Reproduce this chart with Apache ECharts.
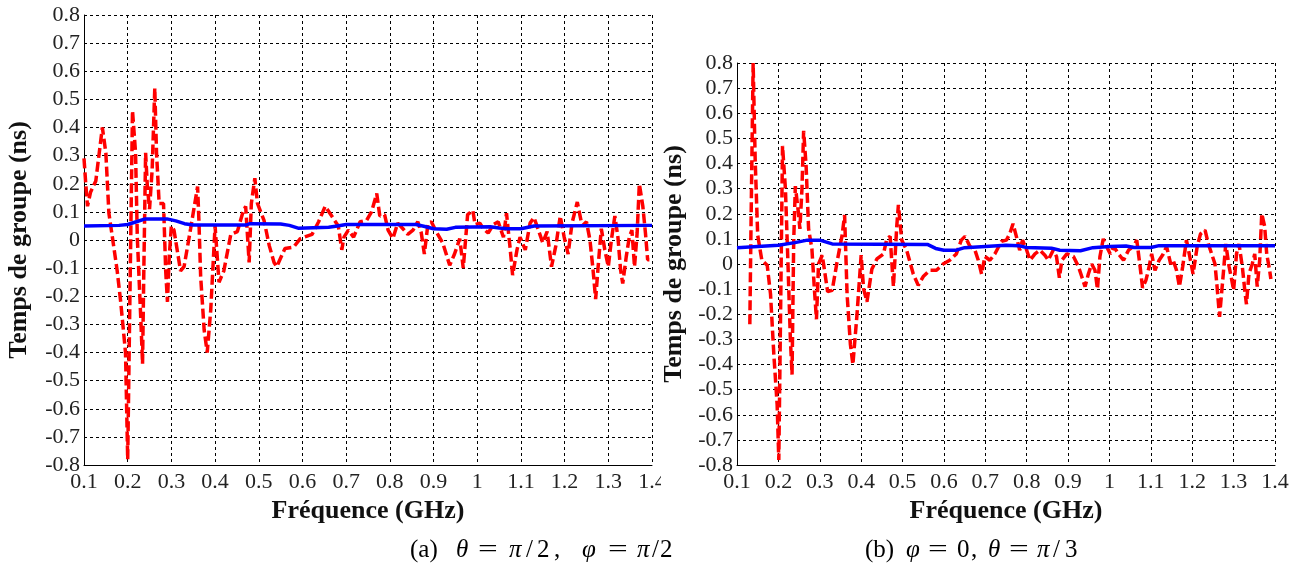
<!DOCTYPE html>
<html>
<head>
<meta charset="utf-8">
<script src="https://cdn.jsdelivr.net/npm/echarts@6/dist/echarts.min.js"></script>
<style>
html,body{margin:0;padding:0;background:#fff;}
#c{width:1305px;height:567px;}
</style>
</head>
<body>
<div id="c"></div>
<script>
// ---- Data (a) theta = pi/2, phi = pi/2 ----
const freqRedA = [0.100,0.104,0.108,0.115,0.127,0.142,0.150,0.157,0.165,0.176,0.184,0.195,0.200,0.206,0.211,0.218,0.222,0.230,0.234,0.237,0.241,0.245,0.250,0.256,0.262,0.266,0.272,0.282,0.287,0.291,0.295,0.300,0.306,0.321,0.329,0.344,0.360,0.363,0.367,0.375,0.382,0.390,0.398,0.400,0.409,0.420,0.436,0.451,0.463,0.470,0.478,0.483,0.491,0.497,0.512,0.524,0.535,0.541,0.560,0.580,0.595,0.622,0.637,0.652,0.667,0.682,0.690,0.695,0.705,0.717,0.732,0.747,0.758,0.770,0.777,0.788,0.796,0.807,0.818,0.830,0.841,0.853,0.864,0.872,0.879,0.887,0.895,0.906,0.921,0.937,0.948,0.960,0.968,0.978,0.990,0.995,1.006,1.014,1.025,1.037,1.048,1.060,1.067,1.075,1.081,1.091,1.098,1.110,1.121,1.130,1.140,1.150,1.160,1.170,1.180,1.190,1.199,1.208,1.217,1.229,1.240,1.250,1.258,1.265,1.271,1.278,1.284,1.292,1.300,1.307,1.315,1.322,1.328,1.333,1.341,1.348,1.354,1.360,1.366,1.371,1.379,1.385,1.390,1.394];
const delayRedA = [0.29,0.20,0.12,0.17,0.21,0.40,0.31,0.095,0.01,-0.11,-0.22,-0.40,-0.78,-0.10,0.46,0.31,0.01,-0.28,-0.44,-0.10,0.31,0.19,0.11,0.25,0.54,0.31,0.13,0.13,-0.11,-0.22,-0.06,0.05,0.035,-0.11,-0.095,0.04,0.19,0.07,-0.13,-0.32,-0.40,-0.25,-0.01,0.05,-0.15,-0.11,0.02,0.03,0.095,0.12,-0.08,0.13,0.22,0.13,0.07,-0.02,-0.08,-0.095,-0.03,-0.025,0.005,0.02,0.065,0.12,0.085,0.05,-0.035,0.01,0.035,0.01,0.065,0.07,0.10,0.165,0.085,0.09,0.035,0.005,0.06,0.04,0.02,0.035,0.065,0.025,-0.05,0.055,0.065,0.03,-0.01,-0.09,-0.05,0.005,-0.10,0.09,0.105,0.055,0.06,0.04,0.025,0.055,0.065,0.01,0.095,-0.025,-0.125,-0.035,0.01,-0.035,0.06,0.08,0.035,-0.01,0.03,-0.095,-0.02,0.085,0.01,-0.05,0.06,0.135,0.05,0.065,0.0,-0.105,-0.21,-0.07,0.04,-0.035,-0.095,0.0,0.085,0.01,-0.105,-0.155,-0.06,0.01,0.035,-0.095,0.025,0.20,0.12,0.025,-0.07,-0.07];
const freqBlueA = [0.10,0.18,0.20,0.22,0.24,0.29,0.31,0.33,0.35,0.47,0.48,0.55,0.57,0.59,0.66,0.68,0.70,0.86,0.88,0.90,0.93,0.95,1.03,1.05,1.07,1.10,1.13,1.40];
const delayBlueA = [0.050,0.052,0.055,0.065,0.075,0.075,0.068,0.058,0.053,0.053,0.058,0.057,0.052,0.042,0.045,0.050,0.055,0.055,0.048,0.040,0.038,0.045,0.047,0.043,0.040,0.040,0.050,0.052];

// ---- Data (b) phi = 0, theta = pi/3 ----
const freqRedB = [0.131,0.134,0.139,0.144,0.150,0.160,0.173,0.181,0.189,0.197,0.201,0.206,0.210,0.217,0.223,0.229,0.233,0.237,0.241,0.248,0.252,0.257,0.261,0.267,0.273,0.281,0.287,0.292,0.297,0.306,0.319,0.330,0.342,0.354,0.360,0.366,0.374,0.380,0.390,0.400,0.406,0.414,0.426,0.438,0.454,0.462,0.470,0.478,0.486,0.490,0.498,0.510,0.526,0.538,0.550,0.566,0.582,0.598,0.614,0.630,0.642,0.651,0.663,0.675,0.683,0.691,0.699,0.711,0.723,0.739,0.751,0.759,0.767,0.775,0.783,0.790,0.800,0.808,0.820,0.832,0.844,0.852,0.864,0.872,0.879,0.885,0.897,0.913,0.925,0.933,0.941,0.949,0.957,0.965,0.971,0.977,0.985,0.993,1.002,1.010,1.022,1.034,1.046,1.058,1.066,1.074,1.080,1.088,1.094,1.102,1.110,1.120,1.130,1.138,1.148,1.154,1.162,1.169,1.177,1.186,1.194,1.202,1.212,1.220,1.231,1.239,1.247,1.255,1.260,1.266,1.275,1.281,1.289,1.294,1.300,1.307,1.313,1.321,1.327,1.331,1.337,1.345,1.351,1.357,1.363,1.368,1.375,1.380,1.387,1.390];
const delayRedB = [-0.24,0.17,0.80,0.41,0.115,0.015,-0.005,-0.12,-0.36,-0.56,-0.78,-0.10,0.47,0.30,0.01,-0.30,-0.44,0.09,0.31,0.21,0.14,0.30,0.53,0.39,0.14,0.06,-0.10,-0.22,0.0,0.035,-0.11,-0.105,0.01,0.115,0.195,-0.12,-0.32,-0.40,-0.20,0.035,-0.10,-0.15,-0.02,0.02,0.04,0.10,0.11,-0.09,0.15,0.235,0.095,0.055,-0.04,-0.085,-0.05,-0.025,-0.025,0.0,0.015,0.04,0.095,0.11,0.07,0.055,0.015,-0.04,0.03,0.015,0.04,0.09,0.095,0.12,0.16,0.11,0.055,0.095,0.055,0.015,0.04,0.055,0.035,0.015,0.055,0.03,-0.055,0.015,0.04,0.03,-0.01,-0.05,-0.09,-0.04,0.0,-0.025,-0.10,0.03,0.10,0.07,0.04,0.07,0.04,0.015,0.055,0.07,0.095,-0.01,-0.095,-0.065,-0.025,0.04,-0.025,0.015,0.04,0.07,0.0,0.015,-0.025,-0.09,-0.01,0.095,0.03,-0.04,0.07,0.12,0.135,0.08,0.04,0.0,-0.09,-0.21,-0.04,0.08,-0.01,-0.05,-0.105,0.04,0.08,-0.01,-0.105,-0.16,-0.04,0.0,0.04,-0.09,0.015,0.20,0.15,0.04,-0.025,-0.06];
const freqBlueB = [0.10,0.20,0.24,0.27,0.30,0.33,0.56,0.58,0.60,0.63,0.65,0.70,0.75,0.78,0.80,0.86,0.88,0.93,0.96,1.00,1.04,1.06,1.10,1.12,1.40];
const delayBlueB = [0.065,0.075,0.085,0.095,0.095,0.080,0.078,0.062,0.055,0.055,0.065,0.070,0.075,0.073,0.066,0.063,0.055,0.053,0.065,0.070,0.072,0.066,0.066,0.073,0.073];

const xTicks = {min:0.1, max:1.4, interval:0.1};
const yTicks = {min:-0.8, max:0.8, interval:0.1};
const xTitle = 'Fréquence (GHz)';
const yTitle = 'Temps de groupe (ns)';
// caption pieces: [text, italic]
const captionA = [['(a)',0],['θ',1],['=',0],['π',1],['/',0],['2',0],[',',0],['φ',1],['=',0],['π',1],['/',0],['2',0]];
const captionB = [['(b)',0],['φ',1],['=',0],['0',0],[',',0],['θ',1],['=',0],['π',1],['/',0],['3',0]];

function pairs(xs, ys){ return xs.map((x,i)=>[x, ys[i]]); }
function fmt(v){ return String(Math.round(v*10)/10); }

const serif = '"Liberation Serif","Times New Roman",serif';
const labelStyle = {fontFamily: serif, fontSize: 22, color: '#222'};
const nameStyle = {fontFamily: serif, fontSize: 26, fontWeight: 'bold', color: '#111'};
const split = {show:true, lineStyle:{color:'#000', width:1, type:[3,3]}};

function xAxis(gi){
  return {type:'value', gridIndex:gi, min:xTicks.min, max:xTicks.max, interval:xTicks.interval,
    axisLine:{show:true, onZero:false, lineStyle:{color:'#000', width:1}},
    axisTick:{show:false}, splitLine:split,
    axisLabel:Object.assign({formatter:fmt, margin:6, showMinLabel:true, showMaxLabel:true}, labelStyle),
    name:xTitle, nameLocation:'middle', nameGap:29, nameTextStyle:nameStyle};
}
function yAxis(gi, gap){
  return {type:'value', gridIndex:gi, min:yTicks.min, max:yTicks.max, interval:yTicks.interval,
    axisLine:{show:true, onZero:false, lineStyle:{color:'#000', width:1}},
    axisTick:{show:false}, splitLine:split,
    axisLabel:Object.assign({formatter:fmt, margin:4, showMinLabel:true, showMaxLabel:true}, labelStyle),
    name:yTitle, nameLocation:'middle', nameGap:gap, nameTextStyle:nameStyle};
}
function red(gi, data){
  return {type:'line', xAxisIndex:gi, yAxisIndex:gi, data:data, showSymbol:false, symbol:'none',
    lineStyle:{color:'#ff0000', width:3.5, type:[10,4]}, z:2, animation:false};
}
function blue(gi, data){
  return {type:'line', xAxisIndex:gi, yAxisIndex:gi, data:data, showSymbol:false, symbol:'none',
    lineStyle:{color:'#0000ff', width:3.5}, z:3, animation:false};
}

// pixel x of each caption piece (layout)
const capAX = [410,456,478,509,526,537,554,582,608,637,652,660];
const capBX = [865,906,928,957,971,988,1009,1037,1053,1065];
function captionGraphics(pieces, xs){
  return pieces.map((p,i)=>({type:'text', x:xs[i], y:550, z:101,
    scaleX: p[0]==='=' ? 1.4 : 1,
    style:{text:p[0], fontFamily:serif, fontSize:25, fontStyle:p[1]?'italic':'normal', fill:'#000', verticalAlign:'middle', align:'left'}}));
}

const chart = echarts.init(document.getElementById('c'), null, {renderer:'canvas'});
chart.setOption({
  backgroundColor:'#fff',
  animation:false,
  grid:[
    {left:84, top:15, width:568, height:450},
    {left:737, top:63, width:538, height:402}
  ],
  xAxis:[xAxis(0), xAxis(1)],
  yAxis:[yAxis(0, 52), yAxis(1, 50)],
  series:[
    red(0, pairs(freqRedA, delayRedA)),
    blue(0, pairs(freqBlueA, delayBlueA)),
    red(1, pairs(freqRedB, delayRedB)),
    blue(1, pairs(freqBlueB, delayBlueB))
  ],
  graphic:[
    {type:'rect', left:661, top:467, shape:{width:40, height:30}, style:{fill:'#fff'}, z:100}
  ].concat(captionGraphics(captionA, capAX)).concat(captionGraphics(captionB, capBX))
});
</script>
</body>
</html>
